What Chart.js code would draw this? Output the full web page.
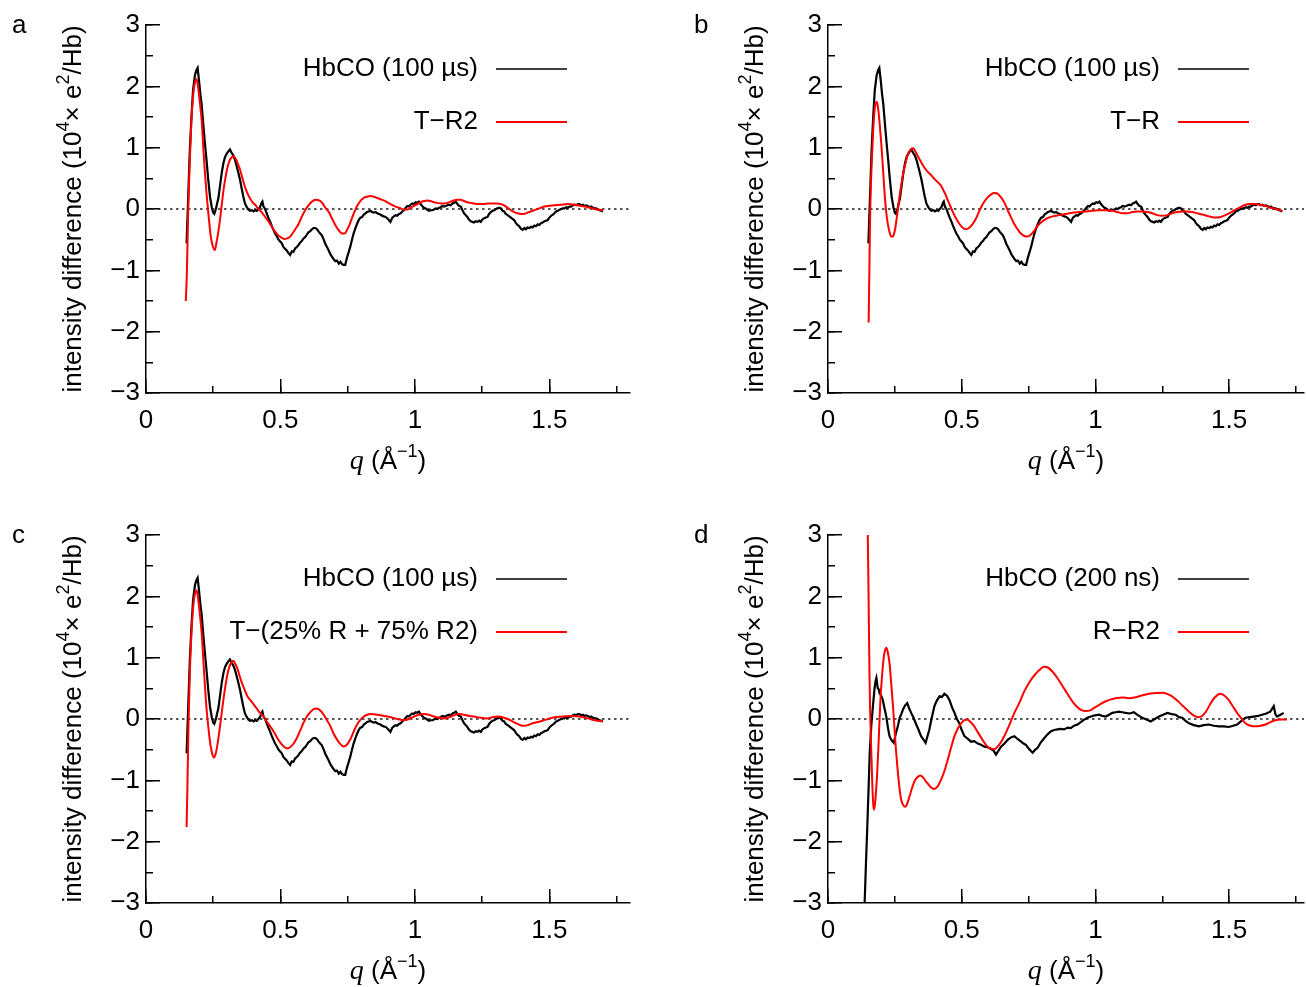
<!DOCTYPE html>
<html>
<head>
<meta charset="utf-8">
<script src="https://cdn.jsdelivr.net/npm/chart.js@4.4.1/dist/chart.umd.min.js"></script>
<style>
  body { margin: 0; background: #fff; overflow: hidden; width: 1306px; height: 987px; }
  .panel { position: absolute; }
</style>
</head>
<body>
<div class="panel" style="left:0;top:0"><canvas id="pa" width="632" height="493"></canvas></div>
<div class="panel" style="left:682px;top:0"><canvas id="pb" width="624" height="493"></canvas></div>
<div class="panel" style="left:0;top:510px"><canvas id="pc" width="632" height="493"></canvas></div>
<div class="panel" style="left:682px;top:510px"><canvas id="pd" width="624" height="493"></canvas></div>
<script>
  const hbco100us = [
    [0.151,-0.56],[0.157,0.20],[0.163,0.96],[0.169,1.50],[0.175,1.94],[0.182,2.18],[0.187,2.26],[0.192,2.30],
    [0.197,2.10],[0.202,1.88],[0.207,1.70],[0.213,1.38],[0.219,1.08],[0.225,0.80],[0.231,0.50],[0.238,0.20],
    [0.245,0.02],[0.250,-0.06],[0.254,-0.08],[0.260,0.00],[0.265,0.10],[0.269,0.17],[0.276,0.40],[0.282,0.60],
    [0.288,0.75],[0.294,0.85],[0.300,0.90],[0.306,0.94],[0.312,0.97],[0.318,0.92],[0.324,0.88],[0.331,0.80],
    [0.337,0.70],[0.343,0.60],[0.350,0.47],[0.356,0.33],[0.362,0.20],[0.368,0.09],[0.375,0.03],[0.381,-0.01],
    [0.387,-0.03],[0.394,-0.02],[0.400,-0.04],[0.406,-0.02],[0.412,-0.03],[0.418,0.00],[0.424,0.03],[0.430,0.10],
    [0.433,0.12],[0.437,0.04],[0.443,0.00],[0.449,-0.07],[0.455,-0.14],[0.462,-0.21],[0.468,-0.28],[0.474,-0.34],
    [0.480,-0.40],[0.486,-0.44],[0.493,-0.50],[0.499,-0.53],[0.505,-0.56],[0.511,-0.62],[0.517,-0.65],[0.524,-0.68],
    [0.530,-0.72],[0.536,-0.75],[0.542,-0.69],[0.548,-0.70],[0.555,-0.64],[0.561,-0.62],[0.567,-0.59],[0.573,-0.55],
    [0.580,-0.52],[0.586,-0.48],[0.592,-0.46],[0.598,-0.42],[0.604,-0.38],[0.611,-0.36],[0.617,-0.33],[0.623,-0.31],
    [0.630,-0.31],[0.636,-0.33],[0.642,-0.37],[0.648,-0.40],[0.654,-0.43],[0.661,-0.50],[0.667,-0.57],[0.673,-0.62],
    [0.680,-0.68],[0.686,-0.74],[0.692,-0.78],[0.698,-0.82],[0.704,-0.85],[0.710,-0.84],[0.717,-0.89],[0.723,-0.86],
    [0.729,-0.90],[0.735,-0.91],[0.741,-0.91],[0.747,-0.80],[0.754,-0.70],[0.760,-0.61],[0.766,-0.50],[0.772,-0.40],
    [0.779,-0.31],[0.785,-0.24],[0.791,-0.18],[0.797,-0.14],[0.804,-0.13],[0.810,-0.09],[0.816,-0.07],[0.822,-0.05],
    [0.828,-0.04],[0.835,-0.03],[0.841,-0.05],[0.847,-0.06],[0.853,-0.05],[0.860,-0.07],[0.866,-0.08],[0.872,-0.09],
    [0.878,-0.11],[0.884,-0.12],[0.891,-0.13],[0.897,-0.15],[0.903,-0.18],[0.909,-0.21],[0.916,-0.14],[0.922,-0.12],
    [0.928,-0.10],[0.934,-0.11],[0.941,-0.08],[0.947,-0.07],[0.953,-0.04],[0.959,-0.02],[0.966,0.02],[0.972,0.05],
    [0.978,0.04],[0.984,0.07],[0.990,0.09],[0.996,0.08],[1.003,0.11],[1.009,0.10],[1.015,0.12],[1.021,0.08],
    [1.027,0.05],[1.034,0.02],[1.040,0.01],[1.046,-0.01],[1.052,-0.03],[1.059,-0.02],[1.065,-0.02],[1.071,-0.01],
    [1.077,0.01],[1.084,0.00],[1.090,0.02],[1.096,0.03],[1.102,0.05],[1.108,0.04],[1.115,0.05],[1.121,0.06],
    [1.127,0.07],[1.133,0.06],[1.140,0.09],[1.146,0.10],[1.152,0.12],[1.158,0.08],[1.165,0.05],[1.171,0.04],
    [1.177,-0.02],[1.183,-0.07],[1.189,-0.10],[1.195,-0.13],[1.201,-0.17],[1.208,-0.20],[1.214,-0.21],[1.220,-0.22],
    [1.226,-0.20],[1.233,-0.21],[1.239,-0.19],[1.245,-0.21],[1.251,-0.17],[1.258,-0.15],[1.264,-0.14],[1.270,-0.13],
    [1.276,-0.08],[1.282,-0.05],[1.289,-0.03],[1.295,-0.02],[1.301,0.00],[1.307,0.01],[1.313,0.02],[1.320,0.01],
    [1.326,-0.03],[1.332,-0.04],[1.338,-0.08],[1.345,-0.10],[1.351,-0.12],[1.357,-0.14],[1.363,-0.16],[1.369,-0.18],
    [1.376,-0.23],[1.382,-0.26],[1.388,-0.28],[1.394,-0.32],[1.401,-0.34],[1.407,-0.31],[1.413,-0.33],[1.419,-0.30],
    [1.426,-0.31],[1.432,-0.29],[1.438,-0.30],[1.444,-0.27],[1.450,-0.28],[1.457,-0.25],[1.463,-0.26],[1.469,-0.23],
    [1.475,-0.22],[1.482,-0.20],[1.488,-0.19],[1.494,-0.18],[1.500,-0.14],[1.507,-0.11],[1.513,-0.09],[1.519,-0.07],
    [1.525,-0.04],[1.532,-0.03],[1.538,-0.01],[1.544,0.00],[1.550,0.01],[1.556,0.01],[1.563,0.03],[1.569,0.02],
    [1.575,0.04],[1.581,0.04],[1.588,0.06],[1.594,0.07],[1.600,0.06],[1.606,0.08],[1.612,0.08],[1.619,0.06],
    [1.625,0.07],[1.631,0.05],[1.637,0.06],[1.643,0.05],[1.650,0.03],[1.656,0.04],[1.662,0.02],[1.668,0.01],
    [1.674,0.01],[1.681,-0.01],[1.687,-0.02],[1.693,-0.03],[1.699,-0.04]
  ];

  const hbco200ns = [
    [0.133,-3.3],[0.137,-3.0],[0.142,-2.35],[0.147,-1.75],[0.152,-1.10],[0.156,-0.55],[0.162,-0.10],[0.168,0.21],
    [0.174,0.50],[0.178,0.62],[0.181,0.67],[0.186,0.50],[0.190,0.48],[0.193,0.42],[0.199,0.38],[0.205,0.31],
    [0.211,0.18],[0.218,0.04],[0.224,-0.14],[0.230,-0.28],[0.238,-0.35],[0.246,-0.39],[0.253,-0.25],[0.261,-0.12],
    [0.268,0.02],[0.274,0.08],[0.280,0.15],[0.288,0.22],[0.296,0.26],[0.303,0.18],[0.311,0.10],[0.320,0.02],
    [0.330,-0.09],[0.339,-0.18],[0.348,-0.28],[0.356,-0.33],[0.365,-0.39],[0.372,-0.28],[0.379,-0.17],[0.388,0.02],
    [0.398,0.21],[0.407,0.30],[0.417,0.37],[0.426,0.36],[0.435,0.41],[0.445,0.38],[0.454,0.31],[0.463,0.20],
    [0.473,0.10],[0.482,0.00],[0.491,-0.07],[0.500,-0.18],[0.510,-0.28],[0.522,-0.32],[0.535,-0.37],[0.547,-0.36],
    [0.560,-0.40],[0.572,-0.42],[0.585,-0.45],[0.597,-0.46],[0.610,-0.49],[0.620,-0.52],[0.628,-0.58],[0.637,-0.52],
    [0.647,-0.45],[0.660,-0.40],[0.672,-0.34],[0.684,-0.30],[0.697,-0.28],[0.710,-0.33],[0.722,-0.37],[0.731,-0.40],
    [0.740,-0.42],[0.752,-0.49],[0.765,-0.55],[0.775,-0.50],[0.784,-0.47],[0.796,-0.38],[0.809,-0.31],[0.821,-0.25],
    [0.834,-0.20],[0.846,-0.18],[0.858,-0.17],[0.870,-0.16],[0.883,-0.17],[0.896,-0.14],[0.908,-0.15],[0.920,-0.11],
    [0.933,-0.09],[0.945,-0.05],[0.958,-0.01],[0.970,0.02],[0.983,0.04],[0.998,0.06],[1.014,0.07],[1.026,0.05],
    [1.039,0.04],[1.051,0.07],[1.063,0.10],[1.076,0.11],[1.088,0.12],[1.100,0.11],[1.113,0.10],[1.128,0.09],
    [1.144,0.11],[1.160,0.06],[1.175,0.02],[1.191,-0.01],[1.207,-0.04],[1.222,0.00],[1.238,0.04],[1.253,0.07],
    [1.269,0.10],[1.285,0.08],[1.300,0.07],[1.312,0.03],[1.325,0.02],[1.337,-0.03],[1.350,-0.07],[1.368,-0.10],
    [1.387,-0.12],[1.405,-0.10],[1.424,-0.09],[1.443,-0.11],[1.462,-0.12],[1.480,-0.12],[1.499,-0.13],[1.515,-0.11],
    [1.530,-0.09],[1.546,-0.03],[1.561,0.02],[1.577,0.03],[1.592,0.04],[1.608,0.05],[1.623,0.07],[1.639,0.09],
    [1.654,0.12],[1.667,0.21],[1.673,0.08],[1.679,0.04],[1.692,0.07],[1.704,0.10]
  ];

  // model difference curves
  const modelTR2 = [
    [0.148,-1.50],[0.152,-1.05],[0.157,-0.02],[0.163,0.80],[0.169,1.45],[0.176,1.88],[0.182,2.06],[0.188,2.12],
    [0.194,1.98],[0.200,1.75],[0.207,1.45],[0.213,1.00],[0.219,0.60],[0.225,0.26],[0.233,-0.12],[0.241,-0.45],
    [0.248,-0.60],[0.256,-0.67],[0.262,-0.55],[0.268,-0.40],[0.275,-0.18],[0.282,0.08],[0.288,0.30],[0.294,0.47],
    [0.302,0.66],[0.310,0.78],[0.318,0.84],[0.325,0.86],[0.331,0.84],[0.337,0.79],[0.343,0.72],[0.350,0.64],
    [0.356,0.54],[0.362,0.45],[0.368,0.36],[0.375,0.28],[0.387,0.17],[0.400,0.09],[0.406,0.07],[0.418,0.00],
    [0.430,-0.05],[0.443,-0.13],[0.455,-0.20],[0.468,-0.29],[0.480,-0.37],[0.492,-0.43],[0.505,-0.47],[0.515,-0.49],
    [0.524,-0.48],[0.536,-0.45],[0.548,-0.38],[0.558,-0.31],[0.567,-0.25],[0.580,-0.12],[0.592,-0.02],[0.604,0.06],
    [0.617,0.12],[0.630,0.15],[0.644,0.14],[0.655,0.10],[0.667,0.02],[0.680,-0.05],[0.692,-0.16],[0.704,-0.26],
    [0.717,-0.35],[0.729,-0.40],[0.738,-0.40],[0.748,-0.34],[0.760,-0.22],[0.772,-0.08],[0.785,0.05],[0.797,0.13],
    [0.810,0.18],[0.822,0.20],[0.835,0.21],[0.847,0.20],[0.860,0.18],[0.872,0.16],[0.884,0.14],[0.897,0.11],
    [0.909,0.08],[0.922,0.05],[0.934,0.03],[0.947,0.01],[0.959,-0.01],[0.972,-0.01],[0.984,0.02],[0.996,0.05],
    [1.009,0.08],[1.021,0.11],[1.034,0.13],[1.046,0.14],[1.058,0.13],[1.071,0.11],[1.083,0.10],[1.096,0.09],
    [1.108,0.09],[1.121,0.10],[1.133,0.12],[1.146,0.14],[1.158,0.15],[1.171,0.15],[1.183,0.13],[1.195,0.11],
    [1.208,0.10],[1.220,0.09],[1.233,0.08],[1.245,0.08],[1.258,0.08],[1.270,0.09],[1.282,0.09],[1.295,0.09],
    [1.307,0.09],[1.320,0.08],[1.332,0.06],[1.345,0.02],[1.357,-0.02],[1.370,-0.05],[1.382,-0.07],[1.394,-0.08],
    [1.407,-0.08],[1.419,-0.06],[1.432,-0.04],[1.444,-0.02],[1.457,0.00],[1.469,0.02],[1.482,0.04],[1.494,0.05],
    [1.519,0.06],[1.544,0.07],[1.569,0.08],[1.594,0.07],[1.618,0.05],[1.643,0.03],[1.668,0.00],[1.699,-0.02]
  ];

  const modelTR = [
    [0.152,-1.85],[0.155,-0.90],[0.158,0.00],[0.163,0.70],[0.168,1.20],[0.173,1.55],[0.178,1.72],[0.183,1.75],
    [0.188,1.62],[0.193,1.40],[0.199,1.08],[0.205,0.70],[0.211,0.30],[0.217,-0.02],[0.224,-0.25],[0.231,-0.39],
    [0.237,-0.45],[0.243,-0.45],[0.250,-0.35],[0.256,-0.18],[0.262,0.02],[0.268,0.22],[0.275,0.42],[0.282,0.60],
    [0.290,0.75],[0.297,0.87],[0.304,0.94],[0.312,0.98],[0.320,0.99],[0.328,0.93],[0.336,0.86],[0.345,0.79],
    [0.354,0.72],[0.363,0.66],[0.372,0.61],[0.382,0.57],[0.392,0.52],[0.402,0.47],[0.412,0.43],[0.423,0.38],
    [0.432,0.30],[0.440,0.23],[0.448,0.14],[0.457,0.05],[0.467,-0.05],[0.477,-0.14],[0.491,-0.24],[0.505,-0.31],
    [0.516,-0.33],[0.527,-0.31],[0.540,-0.25],[0.553,-0.16],[0.566,-0.03],[0.580,0.09],[0.597,0.19],[0.610,0.24],
    [0.622,0.26],[0.634,0.25],[0.647,0.19],[0.660,0.10],[0.672,-0.02],[0.685,-0.14],[0.697,-0.25],[0.709,-0.33],
    [0.721,-0.40],[0.734,-0.44],[0.746,-0.45],[0.758,-0.42],[0.770,-0.36],[0.783,-0.28],[0.796,-0.22],[0.808,-0.18],
    [0.821,-0.15],[0.840,-0.12],[0.865,-0.10],[0.890,-0.08],[0.914,-0.06],[0.940,-0.05],[0.964,-0.04],[0.989,-0.03],
    [1.014,-0.02],[1.039,-0.02],[1.064,-0.03],[1.083,-0.05],[1.101,-0.07],[1.120,-0.07],[1.138,-0.05],[1.157,-0.04],
    [1.176,-0.04],[1.195,-0.05],[1.213,-0.07],[1.232,-0.10],[1.250,-0.11],[1.269,-0.10],[1.287,-0.07],[1.306,-0.05],
    [1.325,-0.04],[1.343,-0.04],[1.362,-0.05],[1.381,-0.07],[1.400,-0.09],[1.425,-0.12],[1.450,-0.14],[1.468,-0.13],
    [1.486,-0.10],[1.505,-0.06],[1.524,-0.01],[1.542,0.03],[1.561,0.07],[1.580,0.08],[1.598,0.08],[1.617,0.07],
    [1.636,0.05],[1.655,0.02],[1.673,0.00],[1.698,-0.03]
  ];

  const modelTMix = [
    [0.151,-1.76],[0.154,-1.10],[0.158,-0.10],[0.163,0.75],[0.169,1.40],[0.176,1.85],[0.182,2.04],[0.188,2.10],
    [0.194,1.96],[0.200,1.72],[0.207,1.40],[0.213,0.98],[0.219,0.55],[0.225,0.18],[0.233,-0.18],[0.240,-0.43],
    [0.247,-0.58],[0.253,-0.63],[0.260,-0.55],[0.267,-0.38],[0.274,-0.16],[0.281,0.08],[0.288,0.32],[0.295,0.53],
    [0.302,0.71],[0.310,0.85],[0.318,0.93],[0.325,0.95],[0.332,0.90],[0.340,0.82],[0.347,0.72],[0.355,0.61],
    [0.362,0.53],[0.370,0.44],[0.380,0.35],[0.390,0.30],[0.400,0.24],[0.412,0.17],[0.424,0.10],[0.437,0.04],
    [0.449,-0.04],[0.462,-0.12],[0.474,-0.20],[0.487,-0.30],[0.499,-0.38],[0.512,-0.45],[0.524,-0.48],[0.536,-0.46],
    [0.549,-0.40],[0.561,-0.31],[0.574,-0.18],[0.586,-0.06],[0.598,0.04],[0.611,0.11],[0.623,0.16],[0.636,0.17],
    [0.648,0.14],[0.661,0.07],[0.673,-0.02],[0.686,-0.12],[0.698,-0.24],[0.711,-0.34],[0.723,-0.41],[0.735,-0.45],
    [0.747,-0.42],[0.760,-0.33],[0.773,-0.20],[0.785,-0.09],[0.798,-0.01],[0.810,0.04],[0.823,0.07],[0.835,0.08],
    [0.860,0.07],[0.885,0.05],[0.910,0.03],[0.934,0.00],[0.959,-0.02],[0.978,0.00],[0.996,0.04],[1.015,0.07],
    [1.034,0.08],[1.052,0.07],[1.071,0.04],[1.090,0.02],[1.108,0.01],[1.127,0.03],[1.146,0.06],[1.164,0.08],
    [1.183,0.07],[1.201,0.05],[1.220,0.04],[1.245,0.02],[1.270,0.01],[1.289,0.03],[1.307,0.04],[1.326,0.03],
    [1.345,0.00],[1.363,-0.04],[1.382,-0.08],[1.401,-0.11],[1.420,-0.10],[1.438,-0.07],[1.457,-0.05],[1.488,-0.01],
    [1.519,0.03],[1.550,0.04],[1.581,0.05],[1.612,0.04],[1.643,0.01],[1.670,-0.02],[1.699,-0.04]
  ];

  const modelRR2 = [
    [0.146,3.4],[0.149,2.92],[0.152,1.90],[0.155,0.75],[0.158,0.05],[0.162,-0.55],[0.166,-1.10],[0.169,-1.38],
    [0.172,-1.48],[0.176,-1.38],[0.180,-1.15],[0.184,-0.88],[0.190,-0.30],[0.196,0.31],[0.203,0.75],[0.209,1.02],
    [0.214,1.13],[0.218,1.16],[0.223,1.10],[0.230,0.91],[0.236,0.60],[0.243,0.21],[0.249,-0.18],[0.255,-0.55],
    [0.262,-0.90],[0.268,-1.15],[0.274,-1.32],[0.282,-1.41],[0.289,-1.43],[0.297,-1.37],[0.305,-1.26],[0.314,-1.13],
    [0.323,-1.02],[0.334,-0.95],[0.346,-0.92],[0.357,-0.96],[0.367,-1.02],[0.380,-1.09],[0.390,-1.13],[0.398,-1.14],
    [0.410,-1.10],[0.423,-0.99],[0.436,-0.84],[0.448,-0.66],[0.460,-0.47],[0.473,-0.28],[0.486,-0.15],[0.498,-0.07],
    [0.510,-0.02],[0.520,-0.01],[0.533,-0.05],[0.547,-0.12],[0.562,-0.23],[0.578,-0.34],[0.592,-0.43],[0.607,-0.48],
    [0.622,-0.49],[0.640,-0.42],[0.659,-0.28],[0.678,-0.10],[0.697,0.10],[0.715,0.26],[0.734,0.45],[0.753,0.60],
    [0.775,0.73],[0.796,0.82],[0.808,0.85],[0.822,0.84],[0.840,0.77],[0.859,0.66],[0.878,0.53],[0.897,0.40],
    [0.915,0.28],[0.931,0.20],[0.946,0.15],[0.964,0.13],[0.980,0.14],[0.995,0.18],[1.017,0.24],[1.039,0.29],
    [1.058,0.32],[1.076,0.34],[1.101,0.35],[1.126,0.34],[1.145,0.35],[1.163,0.37],[1.188,0.40],[1.213,0.42],
    [1.250,0.43],[1.268,0.41],[1.287,0.37],[1.306,0.30],[1.325,0.22],[1.350,0.12],[1.370,0.05],[1.385,0.03],
    [1.399,0.05],[1.415,0.13],[1.430,0.25],[1.448,0.36],[1.467,0.41],[1.483,0.38],[1.498,0.31],[1.515,0.20],
    [1.530,0.10],[1.546,0.01],[1.561,-0.07],[1.580,-0.11],[1.598,-0.12],[1.617,-0.11],[1.636,-0.09],[1.655,-0.05],
    [1.673,-0.02],[1.695,-0.01],[1.716,-0.01]
  ];

  const panelLetters = ['a', 'b', 'c', 'd'];
  const expLabels = ['HbCO (100 \u00b5s)', 'HbCO (100 \u00b5s)', 'HbCO (100 \u00b5s)', 'HbCO (200 ns)'];
  const modelLabels = ['T\u2212R2', 'T\u2212R', 'T\u2212(25% R + 75% R2)', 'R\u2212R2'];
  const xMaxes = [1.8, 1.78, 1.8, 1.78];
  const yRange = [-3, 3];

  const SANS = '"Liberation Sans", Arial, Helvetica, sans-serif';
  const SERIF = '"Liberation Serif", "DejaVu Serif", serif';

  // draw a row of text pieces (for superscripts / italic q) centred on cx
  function drawRuns(ctx, runs, cx, cy) {
    let total = 0;
    runs.forEach(r => { ctx.font = r.font; total += ctx.measureText(r.t).width; });
    let x = cx - total / 2;
    ctx.textAlign = 'left';
    ctx.textBaseline = 'middle';
    runs.forEach(r => {
      ctx.font = r.font;
      ctx.fillText(r.t, x, cy + (r.dy || 0));
      x += ctx.measureText(r.t).width;
    });
  }

  const xTitleRuns = [
    { t: 'q', font: 'italic 28px ' + SERIF },
    { t: ' (\u00c5', font: '26px ' + SANS },
    { t: '\u22121', font: '18px ' + SANS, dy: -10 },
    { t: ')', font: '26px ' + SANS }
  ];
  const yTitleRuns = [
    { t: 'intensity difference (10', font: '26px ' + SANS },
    { t: '4', font: '18px ' + SANS, dy: -10 },
    { t: '\u00d7 e', font: '26px ' + SANS },
    { t: '2', font: '18px ' + SANS, dy: -10 },
    { t: '/Hb)', font: '26px ' + SANS }
  ];

  // panel letter, gnuplot-style legend (text then line sample) and axis titles
  const panelDecor = {
    id: 'panelDecor',
    afterDraw(chart, args, opts) {
      const ctx = chart.ctx, area = chart.chartArea;
      ctx.save();
      ctx.fillStyle = '#000';
      ctx.font = '26px ' + SANS;
      ctx.textAlign = 'left';
      ctx.textBaseline = 'middle';
      ctx.fillText(opts.letter, 12, 26);

      let row = 0;
      chart.data.datasets.forEach(ds => {
        if (!ds.label) return;
        const y = area.top + 44 + row * 53;
        ctx.font = '26px ' + SANS;
        ctx.textAlign = 'right';
        ctx.fillText(ds.label, area.left + 332, y);
        ctx.strokeStyle = ds.borderColor;
        ctx.lineWidth = ds.legendWidth;
        ctx.beginPath();
        ctx.moveTo(area.left + 350, y);
        ctx.lineTo(area.left + 421, y);
        ctx.stroke();
        row++;
      });

      drawRuns(ctx, xTitleRuns, (area.left + area.right) / 2, 462);
      ctx.translate(74, (area.top + area.bottom) / 2);
      ctx.rotate(-Math.PI / 2);
      drawRuns(ctx, yTitleRuns, 0, 0);
      ctx.restore();
    }
  };

  const fmt = v => (v < 0 ? '\u2212' + (-v) : String(v));
  const toXY = pairs => pairs.map(p => ({ x: p[0], y: p[1] }));

  function makePanel(id, i, expData, modelData) {
    const xMax = xMaxes[i];
    new Chart(document.getElementById(id), {
      type: 'line',
      data: {
        datasets: [
          {
            label: expLabels[i], data: toXY(expData), borderColor: '#000', borderWidth: 2.2,
            legendWidth: 1.6, pointRadius: 0, tension: 0, order: 2
          },
          {
            label: modelLabels[i], data: toXY(modelData), borderColor: '#f00', borderWidth: 2,
            legendWidth: 2, pointRadius: 0, cubicInterpolationMode: 'monotone', order: 1
          },
          {
            label: '', data: [{ x: 0, y: 0 }, { x: xMax, y: 0 }], borderColor: '#222',
            borderWidth: 1.3, borderDash: [2.5, 3.5], pointRadius: 0, order: 3
          }
        ]
      },
      options: {
        responsive: false,
        animation: false,
        devicePixelRatio: 1,
        layout: { padding: { left: 0, top: 25, right: 2, bottom: 0 } },
        plugins: { legend: { display: false }, tooltip: { enabled: false }, panelDecor: { letter: panelLetters[i] } },
        scales: {
          x: {
            type: 'linear', min: 0, max: xMax, weight: 0,
            border: { display: true, color: '#000', width: 1.5 },
            grid: { drawOnChartArea: false, color: '#000', lineWidth: 1.5, tickLength: -14 },
            ticks: { stepSize: 0.5, includeBounds: false, padding: 26, color: '#000', maxRotation: 0, autoSkip: false,
                     font: { family: SANS, size: 26 }, callback: fmt },
            afterFit: s => { s.height = 100; }
          },
          xMinor: {
            type: 'linear', position: 'bottom', min: 0, max: xMax, weight: -1,
            border: { display: false },
            grid: { drawOnChartArea: false, color: '#000', lineWidth: 1.5, tickLength: -7 },
            ticks: { stepSize: 0.25, includeBounds: false, display: false },
            afterFit: s => { s.height = 0; }
          },
          y: {
            type: 'linear', position: 'left', min: yRange[0], max: yRange[1], weight: 0,
            border: { display: true, color: '#000', width: 1.5 },
            grid: { drawOnChartArea: false, color: '#000', lineWidth: 1.5, tickLength: -14 },
            ticks: { stepSize: 1, padding: 20, color: '#000', font: { family: SANS, size: 26 }, callback: fmt },
            afterFit: s => { s.width = 146; s.paddingTop = 0; s.paddingBottom = 0; }
          },
          yMinor: {
            type: 'linear', position: 'left', min: yRange[0], max: yRange[1], weight: -1,
            border: { display: false },
            grid: { drawOnChartArea: false, color: '#000', lineWidth: 1.5, tickLength: -7 },
            ticks: { stepSize: 0.5, display: false },
            afterFit: s => { s.width = 0; s.paddingTop = 0; s.paddingBottom = 0; }
          }
        }
      },
      plugins: [panelDecor]
    });
  }

  makePanel('pa', 0, hbco100us, modelTR2);
  makePanel('pb', 1, hbco100us, modelTR);
  makePanel('pc', 2, hbco100us, modelTMix);
  makePanel('pd', 3, hbco200ns, modelRR2);
</script>
</body>
</html>
